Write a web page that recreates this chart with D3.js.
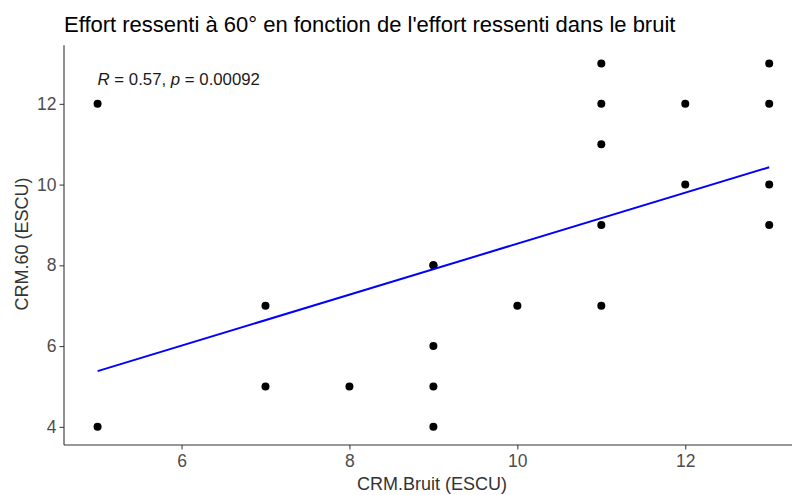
<!DOCTYPE html>
<html><head><meta charset="utf-8">
<script src="https://cdn.jsdelivr.net/npm/d3@7"></script>
<style>body{margin:0;background:#fff}svg{display:block}</style>
</head><body>
<script>
const bruit = [5,5,7,7,8,9,9,9,9,9,10,11,11,11,11,11,12,12,13,13,13,13];
const crm60 = [12,4,7,5,5,8,8,6,5,4,7,13,12,11,9,7,12,10,13,12,10,9];
const fitX = [5,13];
const fitY = [5.38,10.43];
const xTicks = [6,8,10,12];
const yTicks = [4,6,8,10,12];
const title = "Effort ressenti à 60° en fonction de l'effort ressenti dans le bruit";

const W=792,H=495;
const svg=d3.select("body").append("svg").attr("width",W).attr("height",H);
const font="Liberation Sans, Arial, sans-serif";
const x=d3.scaleLinear().domain([4.6,13.4]).range([64,802.8]);
const y=d3.scaleLinear().domain([3.55,13.45]).range([445,45.3]);

svg.append("text").attr("x",64).attr("y",32).attr("font-family",font).attr("font-size",22).attr("fill","#000").text(title);

const gx=svg.append("g").attr("transform","translate(0,445)").call(d3.axisBottom(x).tickValues(xTicks).tickSize(4.5).tickPadding(5));
const gy=svg.append("g").attr("transform","translate(64,0)").call(d3.axisLeft(y).tickValues(yTicks).tickSize(4.5).tickPadding(3));
[gx,gy].forEach(g=>{
  g.select(".domain").attr("stroke","#333").attr("stroke-width",1.1);
  g.selectAll(".tick line").attr("stroke","#333");
  g.selectAll(".tick text").attr("font-family",font).attr("font-size",17.5).attr("fill","#4d4d4d");
});
gx.select(".domain").attr("d","M64,0H"+W);
gy.select(".domain").attr("d","M0,45.3V445");

svg.append("text").attr("x",432).attr("y",490).attr("text-anchor","middle").attr("font-family",font).attr("font-size",18).attr("fill","#333").text("CRM.Bruit (ESCU)");
svg.append("text").attr("transform","translate(28,244) rotate(-90)").attr("text-anchor","middle").attr("font-family",font).attr("font-size",18).attr("fill","#333").text("CRM.60 (ESCU)");

svg.append("g").selectAll("circle").data(bruit.map((b,i)=>[b,crm60[i]])).join("circle")
  .attr("cx",d=>x(d[0])).attr("cy",d=>y(d[1])).attr("r",4).attr("fill","#000");

const line=d3.line().x(d=>x(d[0])).y(d=>y(d[1]));
svg.append("path").datum(fitX.map((v,i)=>[v,fitY[i]])).attr("d",line).attr("stroke","#0000ff").attr("stroke-width",2).attr("fill","none");

const ann=svg.append("text").attr("x",x(5)).attr("y",85).attr("font-family",font).attr("font-size",16.8).attr("fill","#1a1a1a");
ann.append("tspan").attr("font-style","italic").text("R");
ann.append("tspan").text(" = 0.57, ");
ann.append("tspan").attr("font-style","italic").text("p");
ann.append("tspan").text(" = 0.00092");
</script>
</body></html>
